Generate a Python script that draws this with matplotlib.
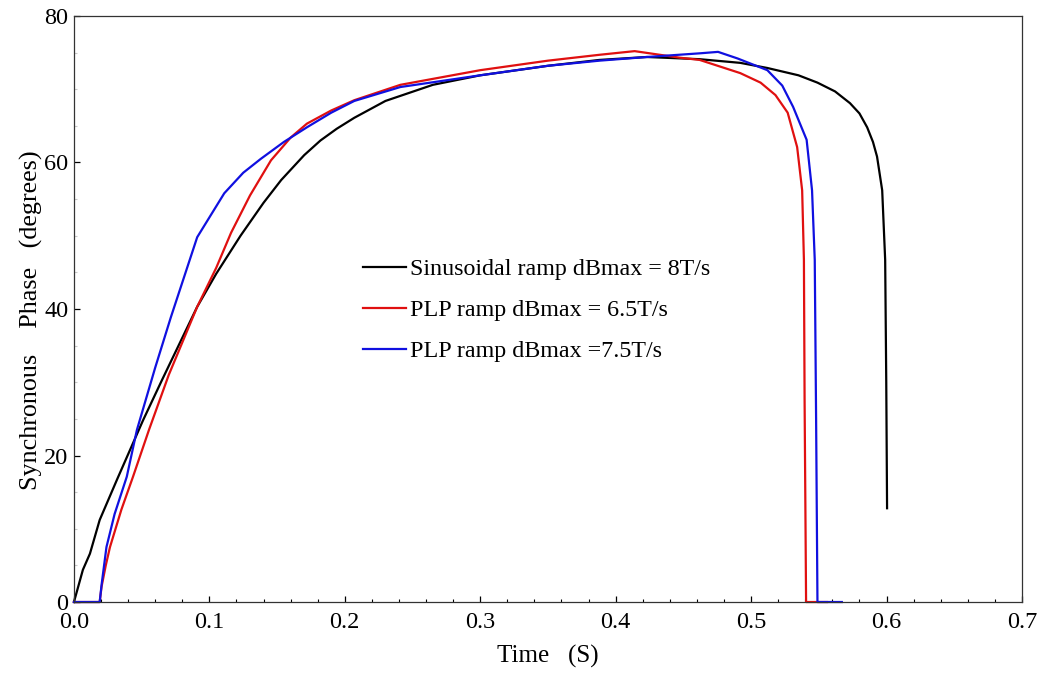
import numpy as np
import matplotlib
matplotlib.use("Agg")
from matplotlib import pyplot as plt
from matplotlib.ticker import MultipleLocator

plt.rcParams["font.family"] = ["Liberation Serif", "DejaVu Serif"]

# Sinusoidal ramp, dBmax = 8T/s
t_sin = [0, 0.0066, 0.0118, 0.019, 0.032, 0.051, 0.065, 0.078, 0.091, 0.105,
         0.123, 0.14, 0.153, 0.17, 0.182, 0.194, 0.207, 0.23, 0.265, 0.3,
         0.35, 0.388, 0.423, 0.462, 0.492, 0.512, 0.535, 0.549, 0.562, 0.573,
         0.58, 0.5857, 0.59, 0.593, 0.5968, 0.599, 0.5998, 0.6004]
y_sin = [0, 4.4, 6.6, 11.2, 16.8, 24.8, 30.3, 35.3, 40.3, 44.8,
         50.0, 54.5, 57.6, 61.0, 63.0, 64.6, 66.1, 68.4, 70.6, 71.9,
         73.2, 74.0, 74.4, 74.1, 73.6, 72.9, 71.9, 70.9, 69.7, 68.1,
         66.7, 64.8, 62.8, 60.8, 56.2, 46.7, 30.0, 12.8]

# PLP ramp, dBmax = 6.5T/s
t_plp65 = [0, 0.019, 0.0204, 0.0235, 0.0266, 0.035, 0.0436, 0.0554, 0.07, 0.091,
           0.105, 0.116, 0.13, 0.1455, 0.16, 0.172, 0.19, 0.207, 0.241, 0.3,
           0.35, 0.388, 0.414, 0.4476, 0.462, 0.492, 0.507, 0.518, 0.527, 0.534,
           0.5377, 0.539, 0.5395, 0.5406, 0.556]
y_plp65 = [0, 0, 2.1, 5.0, 7.5, 12.6, 17.1, 23.5, 31.0, 40.3,
           45.6, 50.4, 55.5, 60.3, 63.4, 65.3, 67.1, 68.5, 70.6, 72.6,
           73.9, 74.7, 75.2, 74.3, 74.0, 72.2, 70.9, 69.2, 66.8, 62.1,
           56.2, 46.7, 27.6, 0, 0]

# PLP ramp, dBmax = 7.5T/s
t_plp75 = [0, 0.019, 0.0205, 0.024, 0.03, 0.039, 0.0465, 0.06, 0.0716, 0.091,
           0.111, 0.125, 0.138, 0.155, 0.172, 0.19, 0.207, 0.241, 0.3, 0.35,
           0.388, 0.423, 0.462, 0.4756, 0.49, 0.512, 0.523, 0.531, 0.541, 0.545,
           0.547, 0.548, 0.549, 0.567]
y_plp75 = [0, 0, 2.5, 7.5, 12.0, 17.1, 23.5, 32.0, 38.9, 49.8,
           55.8, 58.6, 60.5, 62.8, 64.8, 66.8, 68.4, 70.3, 71.9, 73.2,
           73.9, 74.4, 74.9, 75.1, 74.2, 72.6, 70.5, 67.6, 63.1, 56.2,
           46.7, 25.0, 0, 0]

labels = ["Sinusoidal ramp dBmax = 8T/s",
          "PLP ramp dBmax = 6.5T/s",
          "PLP ramp dBmax =7.5T/s"]

fig = plt.figure(figsize=(10.61, 6.74), dpi=100)
ax = fig.add_axes([0.0697, 0.1068, 0.8935, 0.8695])

ax.plot(t_sin, y_sin, color="black", lw=1.6, label=labels[0], clip_on=False)
ax.plot(t_plp65, y_plp65, color="#e01010", lw=1.6, label=labels[1], clip_on=False)
ax.plot(t_plp75, y_plp75, color="#1010e0", lw=1.6, label=labels[2], clip_on=False)

ax.set_xlim(0, 0.7)
ax.set_ylim(0, 80)
ax.xaxis.set_major_locator(MultipleLocator(0.1))
ax.xaxis.set_minor_locator(MultipleLocator(0.02))
ax.yaxis.set_major_locator(MultipleLocator(20))
ax.yaxis.set_minor_locator(MultipleLocator(5))
ax.set_xticklabels([f"{v:.1f}" for v in ax.get_xticks()])

ax.tick_params(which="both", direction="in", labelsize=17.5, colors="black")
ax.tick_params(which="major", length=4.5, width=0.9)
ax.tick_params(which="minor", length=2.5, width=0.8)
ax.tick_params(axis="x", pad=7)
ax.tick_params(axis="y", pad=4)
ax.tick_params(axis="y", which="minor", color="#c8c8c8")
for s in ax.spines.values():
    s.set_linewidth(0.9)
    s.set_color("#333333")

ax.set_xlabel("Time   (S)", fontsize=18)
ax.set_ylabel("Synchronous    Phase   (degrees)", fontsize=18.8)
ax.yaxis.set_label_coords(-0.0327, 0.481)
ax.xaxis.set_label_coords(0.5, -0.0734)

ax.legend(loc="upper left", bbox_to_anchor=(0.305, 0.586), frameon=False,
          fontsize=17.3, handlelength=1.8, handletextpad=0.15, labelspacing=0.8,
          borderpad=0, borderaxespad=0)

fig.savefig("out.png", dpi=100)
